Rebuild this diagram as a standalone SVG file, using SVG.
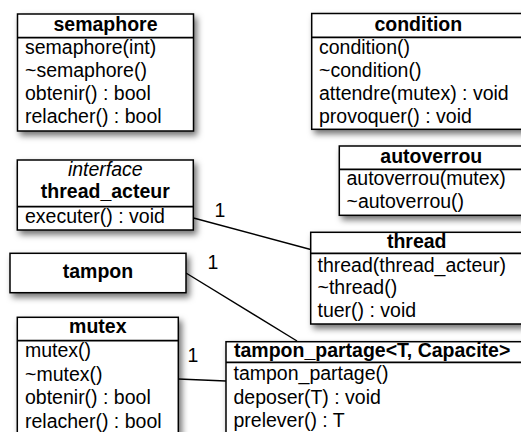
<svg xmlns="http://www.w3.org/2000/svg" width="521" height="432" viewBox="0 0 521 432">
<defs>
<filter id="sh" x="-10%" y="-10%" width="130%" height="140%">
<feDropShadow dx="3" dy="4" stdDeviation="3" flood-color="#000" flood-opacity="0.55"/>
</filter>
<style>
.box{fill:#fff;stroke:#000;stroke-width:1.5}
.sep{stroke:#000;stroke-width:1.8;fill:none}
text{font-family:"Liberation Sans",Arial,Helvetica,sans-serif;font-size:19.5px;fill:#000}
.t{font-weight:bold;text-anchor:middle}
.i{font-style:italic;text-anchor:middle}
.c{stroke:#000;stroke-width:1.4;fill:none}
</style>
</defs>
<rect width="521" height="432" fill="#fff"/>
<g id="connectors">
<line class="c" x1="193.5" y1="218" x2="310.7" y2="249.5"/>
<line class="c" x1="186" y1="273" x2="297" y2="341"/>
<line class="c" x1="178.3" y1="379" x2="226" y2="381"/>
<text x="220" y="217" text-anchor="middle">1</text>
<text x="213" y="269" text-anchor="middle">1</text>
<text x="193" y="362" text-anchor="middle">1</text>
</g>
<g id="semaphore">
<rect class="box" x="17.5" y="14" width="176" height="117" filter="url(#sh)"/>
<line class="sep" x1="17.5" y1="37.7" x2="193.5" y2="37.7"/>
<text class="t" x="105.5" y="31">semaphore</text>
<text x="25" y="54">semaphore(int)</text>
<text x="25" y="77">~semaphore()</text>
<text x="25" y="100">obtenir() : bool</text>
<text x="25" y="123">relacher() : bool</text>
</g>
<g id="condition">
<rect class="box" x="311.7" y="13.5" width="213" height="115.8" filter="url(#sh)"/>
<line class="sep" x1="311.7" y1="37.3" x2="524.7" y2="37.3"/>
<text class="t" x="418.3" y="30.5">condition</text>
<text x="319" y="54">condition()</text>
<text x="319" y="77">~condition()</text>
<text x="319" y="100">attendre(mutex) : void</text>
<text x="319" y="123">provoquer() : void</text>
</g>
<g id="autoverrou">
<rect class="box" x="339.3" y="146" width="184" height="69.3" filter="url(#sh)"/>
<line class="sep" x1="339.3" y1="169.3" x2="523.3" y2="169.3"/>
<text class="t" x="431.3" y="163.3">autoverrou</text>
<text x="346.5" y="185">autoverrou(mutex)</text>
<text x="346.5" y="207.5">~autoverrou()</text>
</g>
<g id="thread_acteur">
<rect class="box" x="17.3" y="160" width="176" height="70" filter="url(#sh)"/>
<line class="sep" x1="17.3" y1="206.7" x2="193.3" y2="206.7"/>
<text class="i" x="105.3" y="176">interface</text>
<text class="t" x="105.3" y="198.3">thread_acteur</text>
<text x="25" y="223">executer() : void</text>
</g>
<g id="tampon">
<rect class="box" x="10" y="253.3" width="176" height="39.4" filter="url(#sh)"/>
<text class="t" x="98" y="278.3">tampon</text>
</g>
<g id="thread">
<rect class="box" x="310.7" y="232.3" width="212" height="91.7" filter="url(#sh)"/>
<line class="sep" x1="310.7" y1="253.3" x2="522.7" y2="253.3"/>
<text class="t" x="416.7" y="248.3">thread</text>
<text x="317.5" y="271.5">thread(thread_acteur)</text>
<text x="317.5" y="294">~thread()</text>
<text x="317.5" y="316.5">tuer() : void</text>
</g>
<g id="mutex">
<rect class="box" x="17.3" y="317.3" width="161" height="125" filter="url(#sh)"/>
<line class="sep" x1="17.3" y1="340.7" x2="178.3" y2="340.7"/>
<text class="t" x="97.8" y="333.3">mutex</text>
<text x="25" y="357">mutex()</text>
<text x="25" y="380.5">~mutex()</text>
<text x="25" y="404">obtenir() : bool</text>
<text x="25" y="427.5">relacher() : bool</text>
</g>
<g id="tampon_partage">
<rect class="box" x="226" y="341.7" width="299" height="100" filter="url(#sh)"/>
<line class="sep" x1="226" y1="362.3" x2="525" y2="362.3"/>
<text x="234" y="356.7" font-weight="bold">tampon_partage&lt;T, Capacite&gt;</text>
<text x="233.5" y="380">tampon_partage()</text>
<text x="233.5" y="404">deposer(T) : void</text>
<text x="233.5" y="426.7">prelever() : T</text>
</g>
</svg>
